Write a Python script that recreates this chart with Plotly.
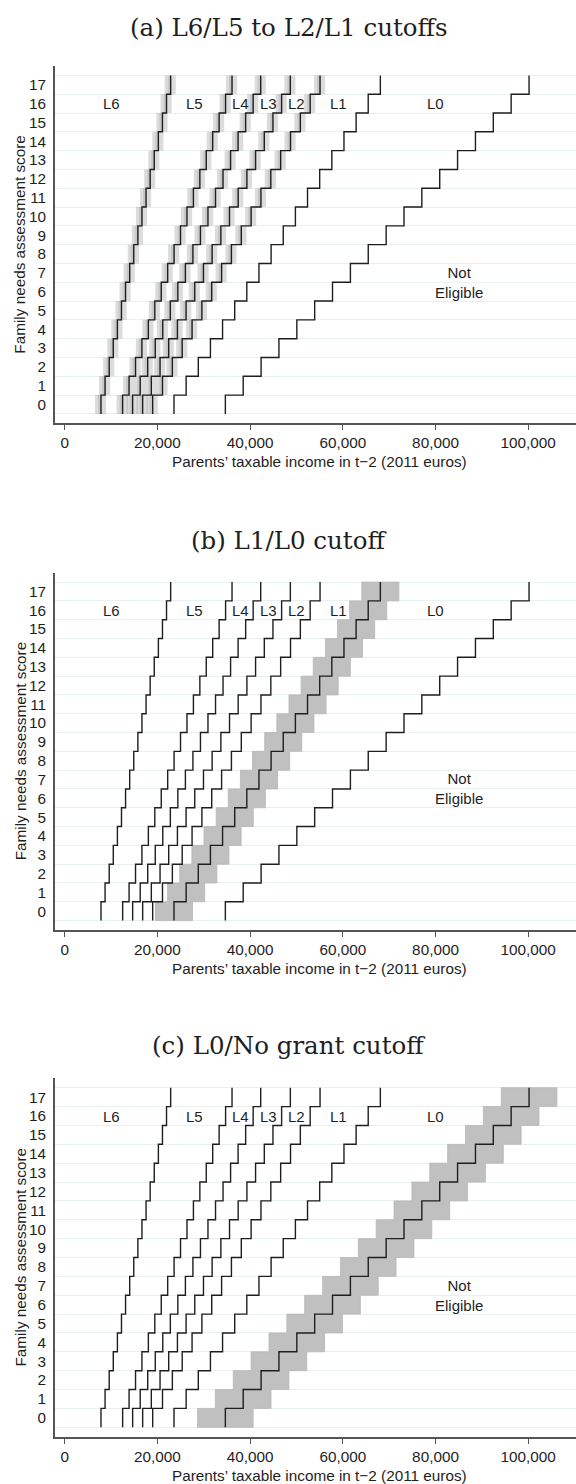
import plotly.graph_objects as go

# Family needs assessment score (rows of each panel)
SCORES = list(range(18))

# Income cutoffs (2011 euros) between grant levels, one value per score
CUT_L6_L5 = [7830, 8710, 9600, 10480, 11370, 12250, 13130, 14020, 14900,
             15790, 16670, 17550, 18440, 19320, 20210, 21090, 21970, 22860]
CUT_L5_L4 = [12500, 13890, 15280, 16660, 18050, 19440, 20830, 22220, 23600,
             24990, 26380, 27770, 29160, 30540, 31930, 33320, 34710, 36100]
CUT_L4_L3 = [14660, 16290, 17910, 19540, 21160, 22790, 24410, 26040, 27660,
             29290, 30910, 32540, 34160, 35790, 37410, 39040, 40660, 42290]
CUT_L3_L2 = [16820, 18690, 20570, 22440, 24320, 26190, 28060, 29940, 31810,
             33690, 35560, 37430, 39310, 41180, 43060, 44930, 46800, 48680]
CUT_L2_L1 = [18980, 21100, 23230, 25350, 27480, 29600, 31720, 33850, 35970,
             38100, 40220, 42340, 44470, 46590, 48720, 50840, 52960, 55090]
CUT_L1_L0 = [23580, 26200, 28820, 31440, 34060, 36680, 39290, 41910, 44530,
             47150, 49770, 52390, 55010, 57630, 60250, 62870, 65480, 68100]
CUT_L0_NE = [34660, 38510, 42370, 46220, 50080, 53930, 57780, 61640, 65490,
             69350, 73200, 77050, 80910, 84760, 88620, 92470, 96320, 100180]

CUTOFFS = [CUT_L6_L5, CUT_L5_L4, CUT_L4_L3, CUT_L3_L2, CUT_L2_L1, CUT_L1_L0, CUT_L0_NE]

PANEL_TITLES = ["(a) L6/L5 to L2/L1 cutoffs", "(b) L1/L0 cutoff", "(c) L0/No grant cutoff"]

# Region labels and where they sit (income, score)
REGION_LABELS = ["L6", "L5", "L4", "L3", "L2", "L1", "L0", "Not<br>Eligible"]
REGION_X = [10000, 28000, 38000, 44000, 50100, 59000, 80000, 85000]
REGION_Y = [16, 16, 16, 16, 16, 16, 16, 6.5]

X_TICKS = [0, 20000, 40000, 60000, 80000, 100000]
X_TICK_TEXT = ["0", "20,000", "40,000", "60,000", "80,000", "100,000"]
X_TITLE = "Parents\u2019 taxable income in t\u22122 (2011 euros)"
Y_TITLE = "Family needs assessment score"

# ---- page geometry (pixels) ----
W, H = 576, 1484
PLOT_LEFT = 55
PANEL_TOP = [66, 572.7, 1078.3]
PANEL_BOT = [423.3, 930.0, 1436.7]
TITLE_Y = [28, 540, 1045]
X_RANGE = [-2093, 110310]
Y_RANGE = [-1, 18]

SANS = "Liberation Sans, Arial, Helvetica, sans-serif"
SERIF = "DejaVu Serif, Liberation Serif, serif"
INK = "#1e1e1e"
GRID = "#e8f0f2"
FS = 15.3


def fy(px):
    return 1 - px / H


def fx(px):
    return px / W


def band_polygon(cut, left, right):
    """Staircase region from cut-left to cut+right over every score row."""
    xs, ys = [], []
    for s, c in zip(SCORES, cut):
        xs += [c - left, c - left]
        ys += [s - 0.5, s + 0.5]
    for s, c in reversed(list(zip(SCORES, cut))):
        xs += [c + right, c + right]
        ys += [s + 0.5, s - 0.5]
    return xs + [xs[0]], ys + [ys[0]]


fig = go.Figure()

# shaded bands around the cutoffs studied in each panel
panel_bands = [
    [(i, 1300, 1100, "rgba(110,110,110,0.24)") for i in range(5)]
    + [(i, 650, 50, "rgba(110,110,110,0.18)") for i in range(5)],
    [(5, 4000, 4000, "rgb(192,192,192)")],
    [(6, 6000, 6000, "rgb(192,192,192)")],
]

for p in range(3):
    xa = "x" if p == 0 else f"x{p + 1}"
    ya = "y" if p == 0 else f"y{p + 1}"
    for idx, lft, rgt, col in panel_bands[p]:
        bx, by = band_polygon(CUTOFFS[idx], lft, rgt)
        edge = "rgba(0,0,0,0)" if p == 0 else "rgb(182,182,182)"
        fig.add_trace(go.Scatter(
            x=bx, y=by, xaxis=xa, yaxis=ya, mode="lines", fill="toself",
            fillcolor=col, line=dict(color=edge, width=0.8),
            hoverinfo="skip", showlegend=False))
    for cut in CUTOFFS:
        fig.add_trace(go.Scatter(
            x=cut + [cut[-1]],
            y=[s - 0.5 for s in SCORES] + [SCORES[-1] + 0.5],
            xaxis=xa, yaxis=ya, mode="lines", line_shape="vh",
            line=dict(color=INK, width=1.4),
            hoverinfo="skip", showlegend=False))

annotations = []
half_rows = [s - 0.5 for s in SCORES] + [SCORES[-1] + 0.5]
layout_axes = {}
for p in range(3):
    xkey = "xaxis" if p == 0 else f"xaxis{p + 1}"
    ykey = "yaxis" if p == 0 else f"yaxis{p + 1}"
    xa = "x" if p == 0 else f"x{p + 1}"
    ya = "y" if p == 0 else f"y{p + 1}"
    layout_axes[xkey] = dict(
        domain=[fx(PLOT_LEFT), 1], range=X_RANGE, anchor=ya,
        tickvals=X_TICKS, ticktext=X_TICK_TEXT, ticks="outside", ticklen=5,
        tickwidth=1.3, tickcolor="#555", showgrid=False, zeroline=False,
        showline=True, linecolor="#555", linewidth=1.6,
        tickfont=dict(family=SANS, size=FS, color=INK))
    layout_axes[ykey] = dict(
        domain=[fy(PANEL_BOT[p]), fy(PANEL_TOP[p])], range=Y_RANGE, anchor=xa,
        tickvals=SCORES, ticktext=[str(s) for s in SCORES], ticks="",
        showgrid=False, zeroline=False, showline=True, linecolor="#555",
        linewidth=1.6, ticklabelstandoff=4,
        tickfont=dict(family=SANS, size=FS, color=INK),
        minor=dict(tickvals=half_rows, showgrid=True, gridcolor=GRID,
                   gridwidth=1.2, ticks=""))
    # panel title
    annotations.append(dict(
        text=PANEL_TITLES[p], x=0.5, y=fy(TITLE_Y[p]), xref="paper", yref="paper",
        showarrow=False, xanchor="center", yanchor="middle",
        font=dict(family=SERIF, size=24.5, color=INK)))
    # axis titles
    annotations.append(dict(
        text=X_TITLE, x=fx(319.7), y=fy(PANEL_BOT[p] + 38.5),
        xref="paper", yref="paper", showarrow=False,
        xanchor="center", yanchor="middle",
        font=dict(family=SANS, size=FS, color=INK)))
    annotations.append(dict(
        text=Y_TITLE, x=fx(20), y=fy((PANEL_TOP[p] + PANEL_BOT[p]) / 2),
        xref="paper", yref="paper", showarrow=False, textangle=-90,
        xanchor="center", yanchor="middle",
        font=dict(family=SANS, size=FS, color=INK)))
    # region labels
    for lab, lx, ly in zip(REGION_LABELS, REGION_X, REGION_Y):
        annotations.append(dict(
            text=lab, x=lx, y=ly, xref=xa, yref=ya, showarrow=False,
            xanchor="center", yanchor="middle",
            font=dict(family=SANS, size=15, color=INK)))

fig.update_layout(
    width=W, height=H, margin=dict(l=0, r=0, t=0, b=0),
    paper_bgcolor="white", plot_bgcolor="white",
    annotations=annotations, **layout_axes)

fig.write_html("out.html")
